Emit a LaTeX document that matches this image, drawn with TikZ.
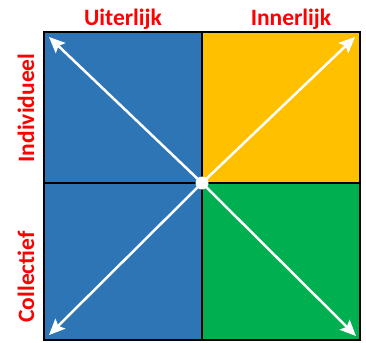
\documentclass[tikz,border=0pt]{standalone}
\usepackage{fontspec}
\setmainfont{Carlito}
\usetikzlibrary{arrows.meta}
\definecolor{qblue}{HTML}{2E75B6}
\definecolor{qyellow}{HTML}{FFC000}
\definecolor{qgreen}{HTML}{00B050}
\definecolor{qred}{HTML}{FF0000}
\tikzset{
  lbl/.style={text=qred,font=\bfseries\fontsize{23.5}{25}\selectfont,inner sep=0pt},
  grid/.style={draw=black,line width=2.2pt},
  arr/.style={draw=white,line width=2.5pt,-{Stealth[length=16pt,width=14pt,inset=3pt]}},
}
\begin{document}
\begin{tikzpicture}[x=1pt,y=-1pt]
\useasboundingbox (0,0) rectangle (366,342);
\coordinate (tl) at (44,32);
\coordinate (br) at (360,340);
\coordinate (c) at (202,183);
\fill[qblue] (tl) rectangle (c |- br);
\fill[qyellow] (c |- tl) rectangle (br |- c);
\fill[qgreen] (c) rectangle (br);
\coordinate (atl) at (49,37);
\coordinate (atr) at (355,37);
\coordinate (abl) at (49,335);
\coordinate (abr) at (356,336);
\draw[arr] (c) -- (atl);
\draw[arr] (c) -- (atr);
\draw[arr] (c) -- (abl);
\draw[arr] (c) -- (abr);
\draw[grid] (c |- tl) -- (c |- br);
\draw[grid] (tl |- c) -- (br |- c);
\draw[grid] (tl) rectangle (br);
\fill[white] (c) circle[radius=6.5pt];
\node[lbl] (uit) at (123,19) {Uiterlijk};
\node[lbl] (inn) at (291,19) {Innerlijk};
\node[lbl,rotate=90] (ind) at (26,108) {Individueel};
\node[lbl,rotate=90] (col) at (26,277) {Collectief};
\end{tikzpicture}
\end{document}
